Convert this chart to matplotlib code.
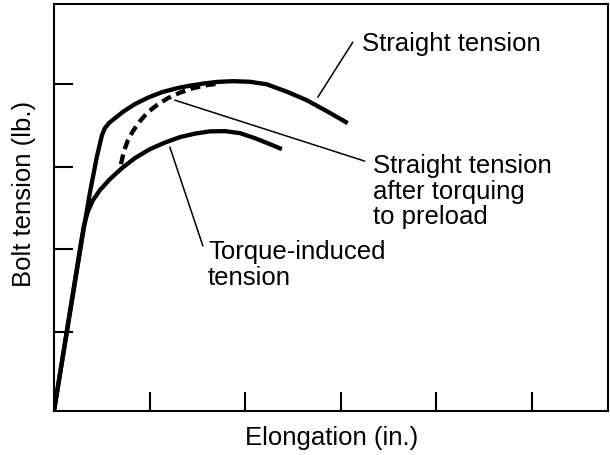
import matplotlib
matplotlib.use('Agg')
import matplotlib.pyplot as plt

plt.rcParams['font.family'] = ['Liberation Sans', 'DejaVu Sans']

# elongation / tension readings (arbitrary units, one unit per tick)
straight_x = [0, 0.293, 0.377, 0.450, 0.502, 0.533, 0.575, 0.638, 0.732, 0.847,
              0.983, 1.130, 1.287, 1.423, 1.569, 1.715, 1.872, 2.050, 2.228,
              2.437, 2.646, 2.856, 3.075]
straight_y = [0, 2.082, 2.651, 3.087, 3.341, 3.426, 3.487, 3.547, 3.632, 3.717,
              3.795, 3.862, 3.910, 3.941, 3.967, 3.987, 3.995, 3.988, 3.957,
              3.868, 3.765, 3.632, 3.487]

torque_x = [0, 0.282, 0.314, 0.356, 0.408, 0.481, 0.586, 0.711, 0.847, 1.004,
            1.161, 1.318, 1.475, 1.632, 1.789, 1.946, 2.103, 2.259, 2.385]
torque_y = [0, 2.034, 2.252, 2.421, 2.554, 2.676, 2.809, 2.942, 3.063, 3.172,
            3.251, 3.317, 3.360, 3.387, 3.390, 3.366, 3.305, 3.233, 3.172]

preload_x = [0.701, 0.732, 0.774, 0.826, 0.900, 0.983, 1.077, 1.192, 1.318,
             1.454, 1.600, 1.715]
preload_y = [2.990, 3.148, 3.281, 3.390, 3.511, 3.620, 3.705, 3.789, 3.856,
             3.910, 3.947, 3.965]

xticks = [1, 2, 3, 4, 5]
yticks = [0.96, 1.96, 2.96, 3.96]

# callouts: (text, text position, point on curve, leader end)
callouts = [
    ("Straight tension", (3.222, 4.60), (2.762, 3.801), (3.128, 4.467)),
    ("Straight tension\nafter torquing\nto preload", (3.337, 3.123), (1.266, 3.765), (3.253, 3.027)),
    ("Torque-induced\ntension", (1.611, 2.082), (1.213, 3.196), (1.559, 1.998)),
]

fig = plt.figure(figsize=(6.1, 4.56), dpi=100)
ax = fig.add_axes([54 / 610, 44 / 456, 554 / 610, 407 / 456])

ax.plot(straight_x, straight_y, color='black', lw=3.1, solid_joinstyle='round', solid_capstyle='butt')
ax.plot(torque_x, torque_y, color='black', lw=3.1, solid_joinstyle='round', solid_capstyle='butt')
ax.plot(preload_x, preload_y, color='black', lw=3.1, linestyle=(0, (2.3, 1.3)))

for label, txt_pos, pt, end in callouts:
    ax.annotate('', xy=pt, xytext=end,
                arrowprops=dict(arrowstyle='-', color='black', lw=1.1, shrinkA=0, shrinkB=0))
    ax.text(txt_pos[0], txt_pos[1], label, fontsize=18.5, ha='left', va='top',
            linespacing=1.08, color='black')

ax.set_xlim(0, 5.8)
ax.set_ylim(0, 4.93)
ax.set_xticks(xticks)
ax.set_yticks(yticks)
ax.set_xticklabels([])
ax.set_yticklabels([])
ax.tick_params(direction='in', length=13.5, width=1.5, color='black')
for s in ax.spines.values():
    s.set_linewidth(1.5)

fig.text(332 / 610, 1 - 438 / 456, 'Elongation (in.)', fontsize=18.5, ha='center', va='center')
fig.text(24 / 610, 1 - 194 / 456, 'Bolt tension (lb.)', fontsize=18.5, ha='center', va='center',
         rotation=90)

fig.savefig('out.png', dpi=100)
